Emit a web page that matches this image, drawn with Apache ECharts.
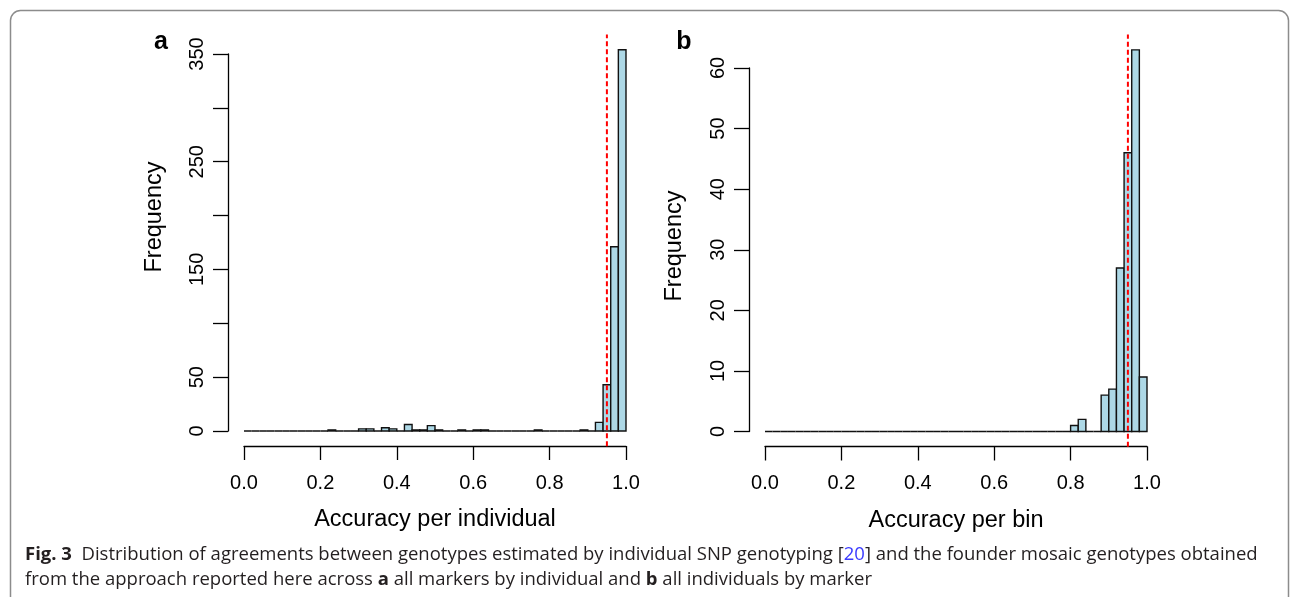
<!DOCTYPE html>
<html>
<head>
<meta charset="utf-8">
<script src="https://cdn.jsdelivr.net/npm/echarts@6/dist/echarts.min.js"></script>
<style>
html,body{margin:0;padding:0;background:#fff;}
#chart{width:1293px;height:597px;}
</style>
</head>
<body>
<div id="chart"></div>
<script>
// ---- data ----
const binEdges = [0.00,0.02,0.04,0.06,0.08,0.10,0.12,0.14,0.16,0.18,
                  0.20,0.22,0.24,0.26,0.28,0.30,0.32,0.34,0.36,0.38,
                  0.40,0.42,0.44,0.46,0.48,0.50,0.52,0.54,0.56,0.58,
                  0.60,0.62,0.64,0.66,0.68,0.70,0.72,0.74,0.76,0.78,
                  0.80,0.82,0.84,0.86,0.88,0.90,0.92,0.94,0.96,0.98,1.00];
const countsA = [0,0,0,0,0,0,0,0,0,0,
                 0,1,0,0,0,2,2,0,3,2,
                 0,6,1,1,5,1,0,0,1,0,
                 1,1,0,0,0,0,0,0,1,0,
                 0,0,0,0,1,0,8,43,171,354];
const countsB = [0,0,0,0,0,0,0,0,0,0,
                 0,0,0,0,0,0,0,0,0,0,
                 0,0,0,0,0,0,0,0,0,0,
                 0,0,0,0,0,0,0,0,0,0,
                 1,2,0,0,6,7,27,46,63,9];
const xTicks = [0.0,0.2,0.4,0.6,0.8,1.0];
const yTicksA = [0,50,100,150,200,250,300,350];
const yLabelsA = [0,50,150,250,350];
const yTicksB = [0,10,20,30,40,50,60];
const threshold = [0.95];
const panelLetters = ['a','b'];
const xTitles = ['Accuracy per individual','Accuracy per bin'];
const yTitle = 'Frequency';

function histData(counts){
  return counts.map((c,i)=>[binEdges[i], binEdges[i+1], c]);
}

const FONT = 'Liberation Sans, Arial, Helvetica, sans-serif';
const axisLineStyle = {color:'#000', width:1.3};

function renderBin(params, api){
  const x0 = api.value(0), x1 = api.value(1), c = api.value(2);
  const p0 = api.coord([x0, c]);
  const p1 = api.coord([x1, 0]);
  return {
    type:'rect',
    shape:{x:p0[0], y:p0[1], width:p1[0]-p0[0], height:p1[1]-p0[1]},
    style:{fill:'#ADD8E6', stroke:'#111', lineWidth:1.4}
  };
}

function xAxisCfg(gi){
  return {
    gridIndex:gi, type:'value', min:0, max:1, interval:0.2, offset:15,
    axisLine:{show:true, onZero:false, lineStyle:axisLineStyle},
    axisTick:{show:true, length:14, lineStyle:axisLineStyle},
    splitLine:{show:false},
    axisLabel:{fontSize:20, color:'#000', fontFamily:FONT, margin:27,
      formatter:v=>xTicks.some(t=>Math.abs(t-v)<1e-9)? v.toFixed(1):''},
    name:xTitles[gi], nameLocation:'middle', nameGap:62,
    nameTextStyle:{fontSize:23.5, color:'#000', fontFamily:FONT}
  };
}
function yAxisCfg(gi, max, interval, labelList){
  return {
    gridIndex:gi, type:'value', min:0, max:max, interval:interval, offset:16,
    axisLine:{show:true, onZero:false, lineStyle:axisLineStyle},
    axisTick:{show:true, length:15, lineStyle:axisLineStyle},
    splitLine:{show:false},
    axisLabel:{fontSize:20, color:'#000', fontFamily:FONT, rotate:90, margin:21,
      formatter:v=>labelList.indexOf(v)>=0? String(v):''}
  };
}

const chart = echarts.init(document.getElementById('chart'), null, {renderer:'canvas'});
const CAP_FONT = '"Open Sans", sans-serif';
const option = {
  animation:false,
  backgroundColor:'#fff',
  grid:[
    {left:244, right:667, top:54, bottom:166},
    {left:765, right:146, top:68, bottom:165.5}
  ],
  xAxis:[xAxisCfg(0), xAxisCfg(1)],
  yAxis:[yAxisCfg(0, 350, 50, yLabelsA), yAxisCfg(1, 60, 10, yTicksB)],
  series:[
    {type:'custom', xAxisIndex:0, yAxisIndex:0, renderItem:renderBin, data:histData(countsA), clip:false, encode:{x:[0,1], y:2}},
    {type:'custom', xAxisIndex:1, yAxisIndex:1, renderItem:renderBin, data:histData(countsB), clip:false, encode:{x:[0,1], y:2}},
    {type:'line', xAxisIndex:0, yAxisIndex:0, showSymbol:false, clip:false, z:10, silent:true,
      data:[[threshold[0], -14.2],[threshold[0], 368.2]],
      lineStyle:{color:'#ff0000', width:2, type:[5,3]}},
    {type:'line', xAxisIndex:1, yAxisIndex:1, showSymbol:false, clip:false, z:10, silent:true,
      data:[[threshold[0], -2.52],[threshold[0], 65.52]],
      lineStyle:{color:'#ff0000', width:2, type:[5,3]}}
  ],
  graphic:[
    {type:'rect', shape:{x:10.5, y:10.5, width:1278, height:610, r:10},
      style:{fill:null, stroke:'#8c8c8c', lineWidth:1.5}, silent:true},
    {type:'text', x:161, y:42, style:{text:panelLetters[0], font:'bold 25px '+FONT, fill:'#000', textAlign:'center', textVerticalAlign:'middle'}},
    {type:'text', x:684, y:42, style:{text:panelLetters[1], font:'bold 25px '+FONT, fill:'#000', textAlign:'center', textVerticalAlign:'middle'}},
    {type:'text', x:155, y:217, rotation:Math.PI/2, style:{text:yTitle, font:'23.5px '+FONT, fill:'#000', textAlign:'center', textVerticalAlign:'middle'}},
    {type:'text', x:675, y:246, rotation:Math.PI/2, style:{text:yTitle, font:'23.5px '+FONT, fill:'#000', textAlign:'center', textVerticalAlign:'middle'}},
    {type:'text', x:25, y:555, style:{
      text:'{b|Fig. 3}  Distribution of agreements between genotypes estimated by individual SNP genotyping [{l|20}] and the founder mosaic genotypes obtained',
      textVerticalAlign:'middle',
      font:'18.5px '+CAP_FONT, fill:'#231f20',
      rich:{b:{fontWeight:'bold', fontSize:18.5, fontFamily:'Open Sans', fill:'#231f20'},
            l:{fontSize:18.5, fontFamily:'Open Sans', fill:'#3b3bff'}}}},
    {type:'text', x:25, y:580, style:{
      text:'from the approach reported here across {b|a} all markers by individual and {b|b} all individuals by marker',
      textVerticalAlign:'middle',
      font:'18.5px '+CAP_FONT, fill:'#231f20',
      rich:{b:{fontWeight:'bold', fontSize:18.5, fontFamily:'Open Sans', fill:'#231f20'}}}}
  ]
};
chart.setOption(option);
</script>
</body>
</html>
